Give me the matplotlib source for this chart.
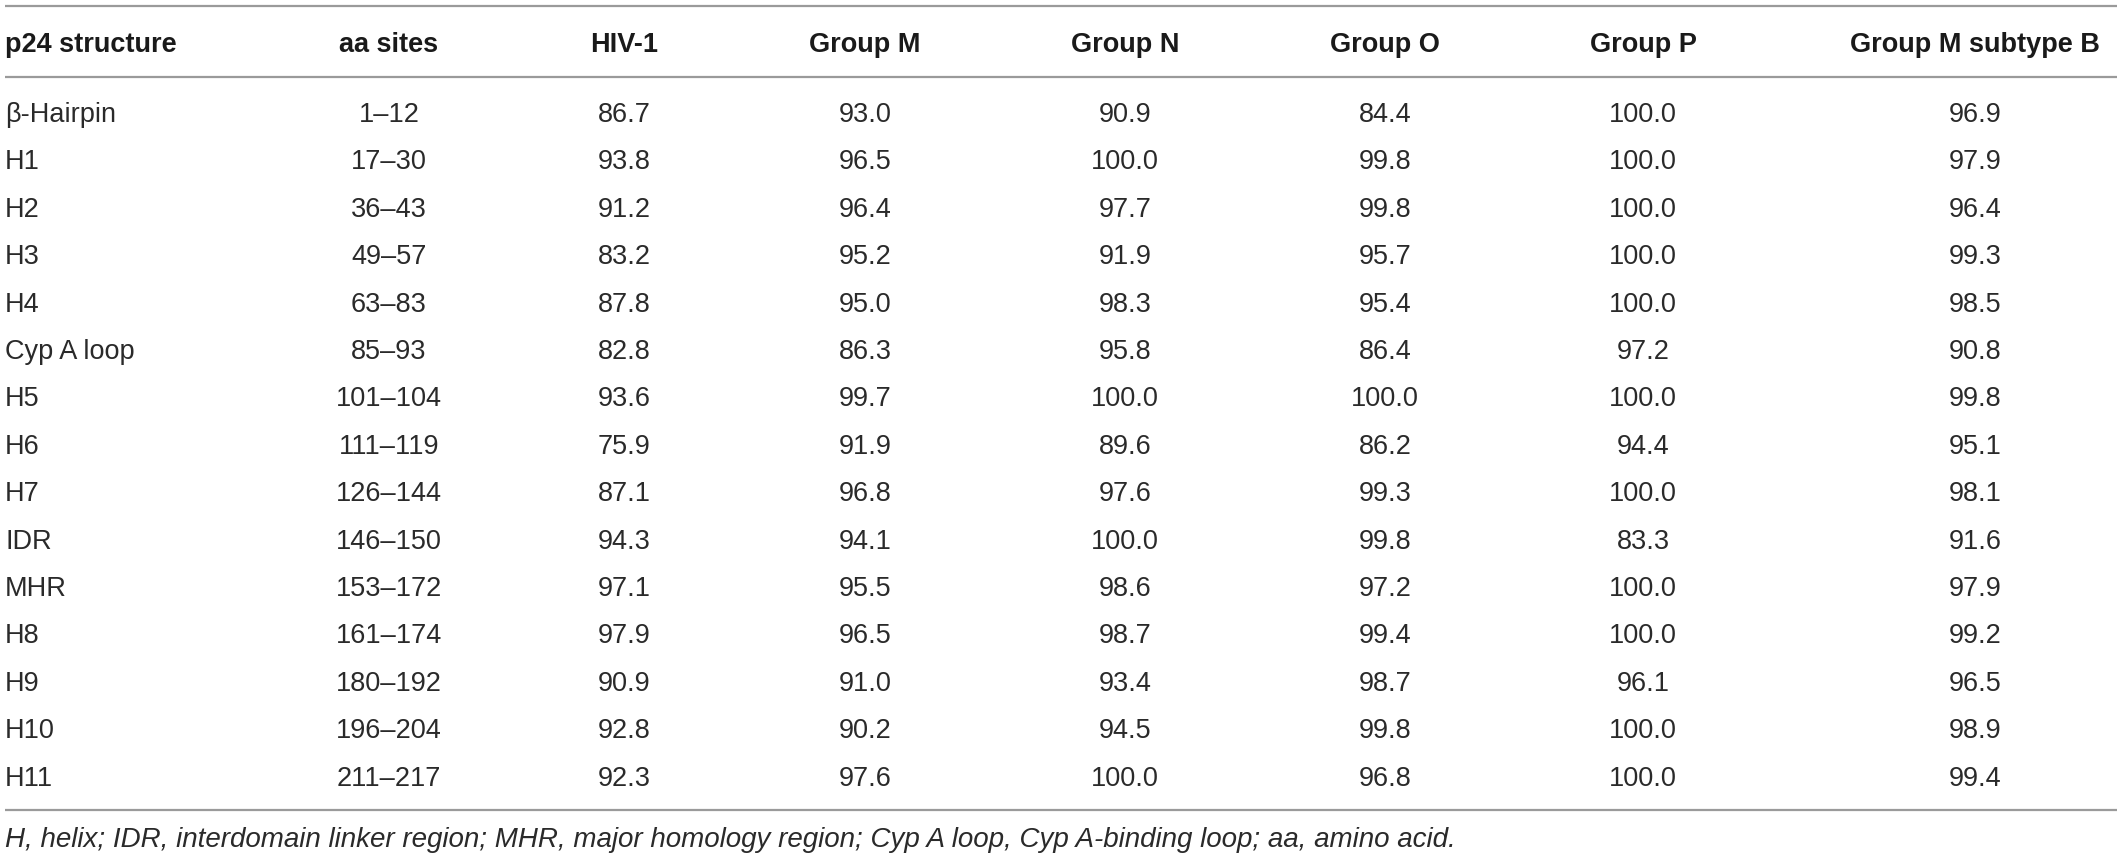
import matplotlib.pyplot as plt

# Données du tableau
headers = ['p24 structure', 'aa sites', 'HIV-1', 'Group M', 'Group N',
           'Group O', 'Group P', 'Group M subtype B']
structures = ['β-Hairpin', 'H1', 'H2', 'H3', 'H4', 'Cyp A loop', 'H5', 'H6',
              'H7', 'IDR', 'MHR', 'H8', 'H9', 'H10', 'H11']
aa_sites = ['1–12', '17–30', '36–43', '49–57', '63–83', '85–93', '101–104',
            '111–119', '126–144', '146–150', '153–172', '161–174', '180–192',
            '196–204', '211–217']
hiv1 = [86.7, 93.8, 91.2, 83.2, 87.8, 82.8, 93.6, 75.9, 87.1, 94.3, 97.1, 97.9, 90.9, 92.8, 92.3]
group_m = [93.0, 96.5, 96.4, 95.2, 95.0, 86.3, 99.7, 91.9, 96.8, 94.1, 95.5, 96.5, 91.0, 90.2, 97.6]
group_n = [90.9, 100.0, 97.7, 91.9, 98.3, 95.8, 100.0, 89.6, 97.6, 100.0, 98.6, 98.7, 93.4, 94.5, 100.0]
group_o = [84.4, 99.8, 99.8, 95.7, 95.4, 86.4, 100.0, 86.2, 99.3, 99.8, 97.2, 99.4, 98.7, 99.8, 96.8]
group_p = [100.0, 100.0, 100.0, 100.0, 100.0, 97.2, 100.0, 94.4, 100.0, 83.3, 100.0, 100.0, 96.1, 100.0, 100.0]
subtype_b = [96.9, 97.9, 96.4, 99.3, 98.5, 90.8, 99.8, 95.1, 98.1, 91.6, 97.9, 99.2, 96.5, 98.9, 99.4]
footnote = ('H, helix; IDR, interdomain linker region; MHR, major homology region; '
            'Cyp A loop, Cyp A-binding loop; aa, amino acid.')

W, H = 2117, 859
fig = plt.figure(figsize=(W / 100, H / 100), dpi=100)
ax = fig.add_axes([0, 0, 1, 1])
ax.set_xlim(0, W)
ax.set_ylim(H, 0)
ax.axis('off')

font = 'Liberation Sans'
txt_color = '#2a2a2a'
line_color = '#9a9a9a'
fs = 19.5

col_x = [5, 389, 624, 865, 1125, 1385, 1643, 1975]
header_base = 52
row_base0 = 122
row_dy = 47.4

# Lignes horizontales
for y in (6, 77, 810):
    ax.plot([5, W], [y, y], color=line_color, lw=1.6, solid_capstyle='butt')

# En-têtes
for i, h in enumerate(headers):
    ax.text(col_x[i], header_base, h, ha='left' if i == 0 else 'center',
            va='baseline', fontsize=fs, fontweight='bold', family=font,
            color='#1a1a1a')

# Lignes du tableau
columns = [hiv1, group_m, group_n, group_o, group_p, subtype_b]
for r in range(len(structures)):
    y = row_base0 + r * row_dy
    ax.text(col_x[0], y, structures[r], ha='left', va='baseline',
            fontsize=fs, family=font, color=txt_color)
    ax.text(col_x[1], y, aa_sites[r], ha='center', va='baseline',
            fontsize=fs, family=font, color=txt_color)
    for c, vals in enumerate(columns):
        ax.text(col_x[c + 2], y, f'{vals[r]:.1f}', ha='center', va='baseline',
                fontsize=fs, family=font, color=txt_color)

# Note de bas de tableau
ax.text(5, 847, footnote, ha='left', va='baseline', fontsize=20,
        style='italic', family=font, color=txt_color)

fig.savefig('out.png', dpi=100)
